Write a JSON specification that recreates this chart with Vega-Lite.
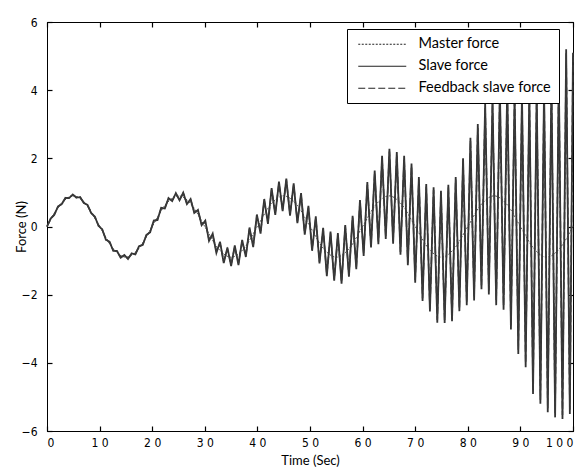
{
  "$schema": "https://vega.github.io/schema/vega-lite/v6.json",
  "width": 526,
  "height": 409,
  "autosize": {"type": "none"},
  "padding": {"left": 47, "top": 22, "right": 12, "bottom": 43},
  "background": "white",
  "config": {
    "view": {"stroke": "#000", "strokeWidth": 1},
    "axis": {
      "domainColor": "#000", "tickColor": "#000", "tickSize": -5, "tickWidth": 1.2, "grid": false,
      "labelFont": "Liberation Sans Narrow, DejaVu Sans Condensed, sans-serif",
      "labelFontSize": 12, "labelColor": "#000",
      "titleFont": "Lato", "titleFontSize": 13, "titleFontWeight": "normal", "titleColor": "#000"
    },
    "legend": {
      "orient": "none", "legendX": 300, "legendY": 7,
      "fillColor": "white", "strokeColor": "#000", "padding": 8,
      "symbolType": "M-4,0H4", "symbolSize": 144, "symbolOffset": 20,
      "symbolStrokeWidth": 1.2, "symbolStrokeColor": "#222",
      "labelFont": "Lato", "labelFontSize": 14.5, "labelColor": "#000", "labelOffset": 29,
      "rowPadding": 7, "title": null
    }
  },
  "datasets": {
    "master": [
      {"t":0,"v":0},{"t":2.5,"v":0.636},{"t":5,"v":0.9},{"t":7.5,"v":0.636},{"t":10,"v":0},{"t":12.5,"v":-0.636},{"t":15,"v":-0.9},{"t":17.5,"v":-0.636},
      {"t":20,"v":0},{"t":22.5,"v":0.636},{"t":25,"v":0.9},{"t":27.5,"v":0.636},{"t":30,"v":0},{"t":32.5,"v":-0.636},{"t":35,"v":-0.9},{"t":37.5,"v":-0.636},
      {"t":40,"v":0},{"t":42.5,"v":0.636},{"t":45,"v":0.9},{"t":47.5,"v":0.636},{"t":50,"v":0},{"t":52.5,"v":-0.636},{"t":55,"v":-0.9},{"t":57.5,"v":-0.636},
      {"t":60,"v":0},{"t":62.5,"v":0.636},{"t":65,"v":0.9},{"t":67.5,"v":0.636},{"t":70,"v":0},{"t":72.5,"v":-0.636},{"t":75,"v":-0.9},{"t":77.5,"v":-0.636},
      {"t":80,"v":0},{"t":82.5,"v":0.636},{"t":85,"v":0.9},{"t":87.5,"v":0.636},{"t":90,"v":0},{"t":92.5,"v":-0.636},{"t":95,"v":-0.9},{"t":97.5,"v":-0.636},{"t":100,"v":0}
    ],
    "main": [
      {"t":0,"s":0,"f":0},{"t":0.7,"s":0.236,"f":0.216},{"t":1.4,"s":0.343,"f":0.363},{"t":2.1,"s":0.592,"f":0.572},{"t":2.8,"s":0.654,"f":0.674},
      {"t":3.5,"s":0.842,"f":0.822},{"t":4.2,"s":0.832,"f":0.852},{"t":4.9,"s":0.94,"f":0.92},{"t":5.6,"s":0.844,"f":0.864},{"t":6.3,"s":0.866,"f":0.846},
      {"t":7,"s":0.688,"f":0.708},{"t":7.7,"s":0.635,"f":0.615},{"t":8.4,"s":0.393,"f":0.413},{"t":9.1,"s":0.291,"f":0.271},{"t":9.8,"s":0.017,"f":0.037},
      {"t":10.5,"s":-0.081,"f":-0.101},{"t":11.2,"s":-0.391,"f":-0.371},{"t":11.9,"s":-0.446,"f":-0.466},{"t":12.6,"s":-0.716,"f":-0.696},{"t":13.3,"s":-0.715,"f":-0.735},
      {"t":14,"s":-0.916,"f":-0.896},{"t":14.7,"s":-0.836,"f":-0.856},{"t":15.4,"s":-0.953,"f":-0.933},{"t":16.1,"s":-0.787,"f":-0.807},{"t":16.8,"s":-0.82,"f":-0.8},
      {"t":17.5,"s":-0.576,"f":-0.596},{"t":18.2,"s":-0.542,"f":-0.522},{"t":18.9,"s":-0.245,"f":-0.265},{"t":19.6,"s":-0.173,"f":-0.153},{"t":20.3,"s":0.175,"f":0.155},
      {"t":21,"s":0.188,"f":0.208},{"t":21.7,"s":0.548,"f":0.528},{"t":22.4,"s":0.526,"f":0.546},{"t":23.1,"s":0.834,"f":0.814},{"t":23.8,"s":0.747,"f":0.767},
      {"t":24.5,"s":0.979,"f":0.959},{"t":25.2,"s":0.768,"f":0.788},{"t":25.9,"s":0.994,"f":0.974},{"t":26.6,"s":0.658,"f":0.678},{"t":27.3,"s":0.805,"f":0.785},
      {"t":28,"s":0.399,"f":0.419},{"t":28.7,"s":0.487,"f":0.467},{"t":29.4,"s":0.039,"f":0.059},{"t":30.1,"s":0.172,"f":0.122},{"t":30.8,"s":-0.424,"f":-0.374},
      {"t":31.5,"s":-0.209,"f":-0.259},{"t":32.2,"s":-0.774,"f":-0.724},{"t":32.9,"s":-0.451,"f":-0.501},{"t":33.6,"s":-1.074,"f":-1.024},{"t":34.3,"s":-0.618,"f":-0.668},
      {"t":35,"s":-1.16,"f":-1.11},{"t":35.7,"s":-0.558,"f":-0.608},{"t":36.4,"s":-1.134,"f":-1.084},{"t":37.1,"s":-0.391,"f":-0.441},{"t":37.8,"s":-0.894,"f":-0.844},
      {"t":38.5,"s":-0.029,"f":-0.079},{"t":39.2,"s":-0.604,"f":-0.554},{"t":39.9,"s":0.352,"f":0.302},{"t":40.6,"s":-0.211,"f":-0.161},{"t":41.3,"s":0.807,"f":0.757},
      {"t":42,"s":0.079,"f":0.129},{"t":42.7,"s":1.125,"f":1.075},{"t":43.4,"s":0.338,"f":0.388},{"t":44.1,"s":1.314,"f":1.264},{"t":44.8,"s":0.448,"f":0.498},
      {"t":45.5,"s":1.409,"f":1.359},{"t":46.2,"s":0.317,"f":0.367},{"t":46.9,"s":1.264,"f":1.214},{"t":47.6,"s":0.096,"f":0.146},{"t":48.3,"s":0.978,"f":0.928},
      {"t":49,"s":-0.242,"f":-0.192},{"t":49.7,"s":0.605,"f":0.555},{"t":50.4,"s":-0.713,"f":-0.663},{"t":51.1,"s":0.295,"f":0.245},{"t":51.8,"s":-1.082,"f":-1.032},
      {"t":52.5,"s":-0.036,"f":-0.086},{"t":53.2,"s":-1.46,"f":-1.41},{"t":53.9,"s":-0.147,"f":-0.197},{"t":54.6,"s":-1.593,"f":-1.543},{"t":55.3,"s":-0.196,"f":-0.246},
      {"t":56,"s":-1.676,"f":-1.626},{"t":56.7,"s":0.045,"f":-0.005},{"t":57.4,"s":-1.476,"f":-1.426},{"t":58.1,"s":0.314,"f":0.264},{"t":58.8,"s":-1.251,"f":-1.201},
      {"t":59.5,"s":0.779,"f":0.729},{"t":60.2,"s":-0.863,"f":-0.783},{"t":60.9,"s":1.301,"f":1.221},{"t":61.6,"s":-0.617,"f":-0.537},{"t":62.3,"s":1.645,"f":1.565},
      {"t":63,"s":-0.522,"f":-0.442},{"t":63.7,"s":2.076,"f":1.996},{"t":64.4,"s":-0.366,"f":-0.286},{"t":65.1,"s":2.28,"f":2.2},{"t":65.8,"s":-0.508,"f":-0.428},
      {"t":66.5,"s":2.182,"f":2.102},{"t":67.2,"s":-0.826,"f":-0.746},{"t":67.9,"s":2.072,"f":1.992},{"t":68.6,"s":-1.137,"f":-1.057},{"t":69.3,"s":1.846,"f":1.766},
      {"t":70,"s":-1.65,"f":-1.57},{"t":70.7,"s":1.454,"f":1.374},{"t":71.4,"s":-2.183,"f":-2.103},{"t":72.1,"s":1.248,"f":1.168},{"t":72.8,"s":-2.494,"f":-2.414},
      {"t":73.5,"s":1.148,"f":1.068},{"t":74.2,"s":-2.822,"f":-2.742},{"t":74.9,"s":1.05,"f":0.97},{"t":75.6,"s":-2.834,"f":-2.754},{"t":76.3,"s":1.224,"f":1.144},
      {"t":77,"s":-2.778,"f":-2.698},{"t":77.7,"s":1.455,"f":1.375},{"t":78.4,"s":-2.483,"f":-2.403},{"t":79.1,"s":1.999,"f":1.919},{"t":79.8,"s":-2.307,"f":-2.227},
      {"t":80.5,"s":2.6,"f":2.52},{"t":81.2,"s":-2.169,"f":-2.049},{"t":81.9,"s":3.006,"f":2.886},{"t":82.6,"s":-1.844,"f":-1.724},{"t":83.3,"s":3.625,"f":3.505},
      {"t":84,"s":-1.994,"f":-1.874},{"t":84.7,"s":3.746,"f":3.626},{"t":85.4,"s":-2.307,"f":-2.187},{"t":86.1,"s":4.047,"f":3.927},{"t":86.8,"s":-2.44,"f":-2.32},
      {"t":87.5,"s":4.136,"f":4.016},{"t":88.2,"s":-3.018,"f":-2.898},{"t":88.9,"s":3.9,"f":3.78},{"t":89.6,"s":-3.737,"f":-3.617},{"t":90.3,"s":3.9,"f":3.78},
      {"t":91,"s":-4.128,"f":-4.008},{"t":91.7,"s":3.95,"f":3.83},{"t":92.4,"s":-4.916,"f":-4.796},{"t":93.1,"s":4.0,"f":3.88},{"t":93.8,"s":-5.2,"f":-5.08},
      {"t":94.5,"s":4.1,"f":3.98},{"t":95.2,"s":-5.45,"f":-5.33},{"t":95.9,"s":4.3,"f":4.18},{"t":96.6,"s":-5.6,"f":-5.48},{"t":97.3,"s":4.5,"f":4.38},
      {"t":98,"s":-5.65,"f":-5.53},{"t":98.7,"s":5.2,"f":5.08},{"t":99.4,"s":-5.5,"f":-5.38},{"t":100,"s":5.1,"f":4.98}
    ]
  },
  "layer": [
    {
      "data": {"name": "master"},
      "mark": {"type": "line", "interpolate": "monotone", "strokeWidth": 1, "color": "#555"},
      "encoding": {
        "x": {"field": "t", "type": "quantitative", "scale": {"domain": [0, 100], "nice": false},
          "axis": {"orient": "bottom", "values": [0,10,20,30,40,50,60,70,80,90,100], "title": "Time (Sec)",
            "labelExpr": "join(split(datum.label, ''), ' ')", "labelPadding": 11, "titlePadding": 6}},
        "y": {"field": "v", "type": "quantitative", "scale": {"domain": [-6, 6], "nice": false},
          "axis": {"orient": "left", "values": [-6,-4,-2,0,2,4,6], "title": "Force (N)", "labelPadding": 15, "titlePadding": -7}},
        "strokeDash": {"datum": "Master force", "type": "nominal",
          "scale": {"domain": ["Master force", "Slave force", "Feedback slave force"], "range": [[2, 1.5], [1, 0], [7, 3]]}}
      }
    },
    {
      "data": {"name": "main"},
      "mark": {"type": "line", "strokeWidth": 1.8, "color": "#333"},
      "encoding": {
        "x": {"field": "t", "type": "quantitative", "scale": {"domain": [0, 100], "nice": false},
          "axis": {"orient": "top", "values": [0,10,20,30,40,50,60,70,80,90,100], "labels": false, "title": null}},
        "y": {"field": "s", "type": "quantitative", "scale": {"domain": [-6, 6], "nice": false},
          "axis": {"orient": "right", "values": [-6,-4,-2,0,2,4,6], "labels": false, "title": null}},
        "strokeDash": {"datum": "Slave force", "type": "nominal"}
      }
    },
    {
      "data": {"name": "main"},
      "mark": {"type": "line", "strokeWidth": 1.5, "color": "#3a3a3a"},
      "encoding": {
        "x": {"field": "t", "type": "quantitative", "axis": null},
        "y": {"field": "f", "type": "quantitative", "axis": null},
        "strokeDash": {"datum": "Feedback slave force", "type": "nominal"}
      }
    }
  ],
  "resolve": {"axis": {"x": "independent", "y": "independent"}}
}
